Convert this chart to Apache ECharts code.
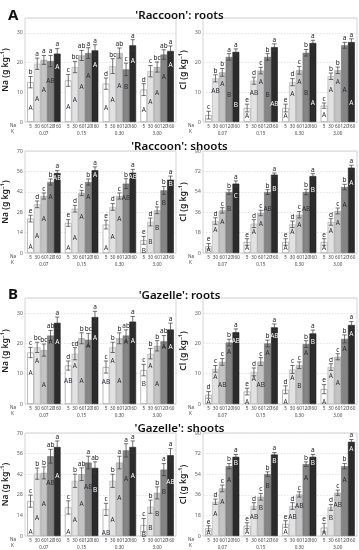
<!DOCTYPE html>
<html><head><meta charset="utf-8">
<script src="https://cdn.jsdelivr.net/npm/echarts/dist/echarts.min.js"></script>
<style>html,body{margin:0;padding:0;background:#fff}#c{width:359px;height:550px}</style>
</head><body><div id="c"></div>
<script>
// ---------- DATA ----------
const kLevels = ['0.07', '0.15', '0.30', '3.00'];
const naLevels = ['5', '30', '60', '120', '160'];

// values[kGroup][naLevel]
const raccoonRootsNa = [[13.4,19.6,20.9,20.5,23.0],[14.0,18.5,22.4,23.2,24.1],[12.9,18.8,23.2,17.7,25.8],[10.9,17.1,18.5,22.7,23.9]];
const raccoonRootsNaErr = [[1.9,1.9,1.5,1.9,1.7],[2.0,1.9,1.7,1.8,1.9],[1.9,2.5,1.7,2.1,1.9],[2.0,1.9,1.7,1.6,1.7]];
const raccoonRootsNaLower = [['b','a','a','a','a'],['c','bc','ab','a','a'],['d','bc','ab','c','a'],['d','c','bc','ab','a']];
const raccoonRootsNaUpper = [['A','A','A','AB','A'],['A','A','A','A','A'],['A','A','A','B','A'],['A','A','A','A','A']];

const raccoonRootsCl = [[2.3,14.7,16.7,21.9,23.6],[4.7,13.9,17.3,21.9,25.2],[4.7,13.4,17.4,23.3,26.6],[5.5,15.4,17.4,25.8,26.9]];
const raccoonRootsClErr = [[1.3,1.2,1.3,1.1,1.0],[1.3,1.2,1.1,1.1,1.1],[1.3,1.2,1.3,1.1,0.9],[0.9,1.1,1.1,1.0,1.1]];
const raccoonRootsClLower = [['c','b','b','a','a'],['e','d','c','b','a'],['e','d','c','b','a'],['c','b','b','a','a']];
const raccoonRootsClUpper = [['','AB','A','B','B'],['A','AB','A','B','AB'],['A','A','A','B','A'],['A','A','A','A','A']];

const raccoonShootsNa = [[23.6,33.4,39.1,48.7,54.9],[20.6,30.4,41.2,48.7,56.8],[19.5,31.6,39.1,47.6,55.1],[8.7,21.3,29.3,43.0,50.3]];
const raccoonShootsNaErr = [[2.3,2.3,2.1,2.1,1.8],[2.3,2.3,1.8,2.1,2.3],[3.0,2.3,2.1,3.4,2.3],[2.7,2.7,2.3,2.7,2.5]];
const raccoonShootsNaLower = [['e','d','c','b','a'],['e','d','c','b','a'],['e','d','c','b','a'],['e','d','c','b','a']];
const raccoonShootsNaUpper = [['A','A','A','A','AB'],['A','A','A','A','A'],['A','A','A','AB','AB'],['B','B','B','B','B']];

const raccoonShootsCl = [[5.9,28.2,37.6,53.8,61.2],[9.7,25.9,35.3,53.8,69.1],[9.7,25.3,33.8,53.8,67.9],[9.7,27.4,37.1,58.2,75.3]];
const raccoonShootsClErr = [[2.4,2.9,2.4,2.1,2.4],[2.9,3.5,2.4,2.1,1.5],[2.9,2.9,2.9,2.4,2.1],[2.9,2.9,2.6,2.4,2.1]];
const raccoonShootsClLower = [['e','d','c','b','a'],['e','d','c','b','a'],['e','d','c','b','a'],['e','d','c','b','a']];
const raccoonShootsClUpper = [['A','A','A','B','C'],['A','A','A','AB','B'],['A','A','A','AB','B'],['A','A','A','A','A']];

const gazelleRootsNa = [[17.0,18.7,17.8,22.6,26.8],[12.7,16.6,21.7,21.2,28.7],[12.2,18.7,21.7,22.6,27.2],[11.2,16.6,19.2,20.7,24.6]];
const gazelleRootsNaErr = [[1.7,1.7,2.0,1.7,1.9],[1.5,2.0,1.8,2.1,1.9],[2.0,1.7,1.8,1.9,1.7],[1.9,1.7,1.7,1.9,2.1]];
const gazelleRootsNaLower = [['c','bc','bc','ab','a'],['d','cd','b','bc','a'],['c','b','b','ab','a'],['c','b','b','ab','a']];
const gazelleRootsNaUpper = [['A','A','A','A','A'],['AB','A','A','A','A'],['AB','A','A','A','A'],['B','A','A','A','A']];

const gazelleRootsCl = [[3.0,11.6,13.9,20.3,23.7],[4.1,10.6,14.0,20.0,25.3],[4.7,11.4,12.8,19.8,23.3],[4.9,12.2,15.6,21.5,26.1]];
const gazelleRootsClErr = [[1.1,1.1,1.1,1.1,1.1],[1.1,1.3,1.3,1.1,1.1],[1.3,1.3,1.1,1.1,1.1],[1.5,1.1,1.0,1.3,1.1]];
const gazelleRootsClLower = [['d','c','c','b','a'],['e','d','c','b','a'],['d','c','c','b','a'],['e','d','c','b','a']];
const gazelleRootsClUpper = [['A','A','AB','A','AB'],['A','A','AB','A','AB'],['A','A','B','A','B'],['A','A','A','A','A']];

const gazelleShootsNa = [[23.7,42.4,42.9,54.2,60.5],[19.4,37.5,42.0,49.9,46.3],[18.1,37.5,49.9,58.2,60.5],[7.4,19.9,29.3,45.1,54.9]];
const gazelleShootsNaErr = [[4.1,3.8,4.1,4.7,4.1],[4.5,4.5,4.3,4.3,4.1],[4.1,4.5,4.3,4.5,4.1],[4.5,4.5,4.1,4.1,4.5]];
const gazelleShootsNaLower = [['c','b','b','ab','a'],['c','b','ab','a','ab'],['c','b','a','a','a'],['c','b','b','a','a']];
const gazelleShootsNaUpper = [['A','A','A','AB','A'],['A','A','A','AB','B'],['AB','A','A','A','A'],['B','B','B','B','AB']];

const gazelleShootsCl = [[6.7,29.9,41.6,61.0,69.2],[9.0,26.2,34.3,54.1,71.2],[10.5,26.2,36.3,62.8,69.2],[7.3,25.0,37.8,61.0,82.3]];
const gazelleShootsClErr = [[2.3,2.3,2.9,2.3,2.0],[2.6,2.9,2.9,2.0,1.7],[2.9,2.9,2.3,2.0,2.0],[3.8,2.6,2.3,2.3,2.0]];
const gazelleShootsClLower = [['e','d','c','b','a'],['e','d','c','b','a'],['e','d','c','b','a'],['e','d','c','b','a']];
const gazelleShootsClUpper = [['A','A','A','A','B'],['A','AB','B','B','B'],['A','AB','AB','A','B'],['A','B','AB','A','A']];

const titles = ["'Raccoon': roots", "'Raccoon': shoots", "'Gazelle': roots", "'Gazelle': shoots"];
const naAxisName = 'Na (g kg\u207B\u00B9)';
const clAxisName = 'Cl (g kg\u207B\u00B9)';

// ---------- LAYOUT / STYLE ----------
const FONT = 'Noto Sans';
const CG = 0.115; // bar category gap fraction
const barFill = ['#ffffff', '#e2e2e2', '#c4c4c4', '#858585', '#2b2b2b'];
const barBorder = ['#8c8c8c', '#b0b0b0', '#9a9a9a', '#6a6a6a', '#222222'];

const panels = [
  {v: raccoonRootsNa, e: raccoonRootsNaErr, lo: raccoonRootsNaLower, up: raccoonRootsNaUpper, name: naAxisName, max: 35, iv: 10,
   g: {left: 25, top: 18, width: 151, height: 104}, frac: [0.36, 0.4, 0.52, 0.67, 0.8]},
  {v: raccoonRootsCl, e: raccoonRootsClErr, lo: raccoonRootsClLower, up: raccoonRootsClUpper, name: clAxisName, max: 35, iv: 10,
   g: {left: 203, top: 18, width: 154, height: 104}, frac: [0.4, 0.7, 0.77, 0.42, 0.24]},
  {v: raccoonShootsNa, e: raccoonShootsNaErr, lo: raccoonShootsNaLower, up: raccoonShootsNaUpper, name: naAxisName, max: 70, iv: 14,
   g: {left: 25, top: 151, width: 151, height: 102}, frac: [0.16, 0.34, 0.59, 0.79, 0.94]},
  {v: raccoonShootsCl, e: raccoonShootsClErr, lo: raccoonShootsClLower, up: raccoonShootsClUpper, name: clAxisName, max: 90, iv: 18,
   g: {left: 203, top: 151, width: 154, height: 102}, frac: [0.45, 0.72, 0.72, 0.72, 0.82]},
  {v: gazelleRootsNa, e: gazelleRootsNaErr, lo: gazelleRootsNaLower, up: gazelleRootsNaUpper, name: naAxisName, max: 35, iv: 10,
   g: {left: 25, top: 298, width: 151, height: 106}, frac: [0.6, 0.75, 0.35, 0.9, 0.76]},
  {v: gazelleRootsCl, e: gazelleRootsClErr, lo: gazelleRootsClLower, up: gazelleRootsClUpper, name: clAxisName, max: 35, iv: 10,
   g: {left: 203, top: 298, width: 154, height: 106}, frac: [0.15, 0.76, 0.45, 0.84, 0.88]},
  {v: gazelleShootsNa, e: gazelleShootsNaErr, lo: gazelleShootsNaLower, up: gazelleShootsNaUpper, name: naAxisName, max: 70, iv: 14,
   g: {left: 25, top: 433, width: 151, height: 103}, frac: [0.12, 0.28, 0.51, 0.66, 0.67]},
  {v: gazelleShootsCl, e: gazelleShootsClErr, lo: gazelleShootsClLower, up: gazelleShootsClUpper, name: clAxisName, max: 90, iv: 18,
   g: {left: 203, top: 433, width: 154, height: 103}, frac: [0.35, 0.64, 0.72, 0.8, 0.92]}
];

const grid = [], xAxis = [], yAxis = [], series = [], graphic = [];

function makeRender(p) {
  return function (params, api) {
    const g = api.value(0), l = api.value(1), v = api.value(2), e = api.value(3);
    const base = api.coord([g, 0]);
    const band = api.size([1, 0])[0];
    const w = band * (1 - CG) / 5;
    const x = base[0] - 2.5 * w + (l + 0.5) * w;
    const yT = api.coord([g, v + e])[1];
    const yB = api.coord([g, v - e])[1];
    const yU = api.coord([g, v * p.frac[l]])[1];
    const cap = w * 0.32;
    const ls = {stroke: '#3a3a3a', lineWidth: 0.7};
    return {type: 'group', children: [
      {type: 'line', shape: {x1: x, y1: yT, x2: x, y2: yB}, style: ls},
      {type: 'line', shape: {x1: x - cap, y1: yT, x2: x + cap, y2: yT}, style: ls},
      {type: 'line', shape: {x1: x - cap, y1: yB, x2: x + cap, y2: yB}, style: ls},
      {type: 'text', x: x, y: yT - 0.5, style: {text: p.lo[g][l], fill: '#222', fontSize: 6.5, fontFamily: FONT, align: 'center', verticalAlign: 'bottom'}},
      {type: 'text', x: x, y: yU, style: {text: p.up[g][l], fill: l === 4 ? '#ffffff' : '#2a2a3a', fontSize: 6.5, fontFamily: FONT, align: 'center', verticalAlign: 'middle'}},
      {type: 'text', x: x, y: base[1] + 2, style: {text: naLevels[l], fill: '#444', fontSize: 4.6, fontFamily: FONT, align: 'center', verticalAlign: 'top'}}
    ]};
  };
}

panels.forEach((p, i) => {
  grid.push(Object.assign({show: true, borderColor: '#c8c8c8', borderWidth: 0.8, backgroundColor: 'transparent', outerBoundsMode: 'none', containLabel: false}, p.g));
  xAxis.push({type: 'category', gridIndex: i, data: kLevels,
    axisLine: {show: false}, axisTick: {show: false},
    axisLabel: {fontSize: 4.6, color: '#444', margin: 9, fontFamily: FONT}});
  yAxis.push({type: 'value', gridIndex: i, min: 0, max: p.max, interval: p.iv,
    name: p.name, nameLocation: 'middle', nameGap: 15, nameRotate: 90,
    nameTextStyle: {fontSize: 8.5, color: '#222', fontFamily: FONT, fontWeight: 600},
    axisLine: {show: false}, axisTick: {show: false},
    axisLabel: {fontSize: 5.5, color: '#666', margin: 2, fontFamily: FONT, showMaxLabel: p.max % p.iv === 0},
    splitLine: {show: true, lineStyle: {color: '#d8d8d8', type: [1.5, 1.5], width: 0.7}}});
  for (let l = 0; l < 5; l++) {
    series.push({type: 'bar', xAxisIndex: i, yAxisIndex: i, barGap: '0%', barCategoryGap: (CG * 100) + '%',
      data: p.v.map(r => r[l]),
      itemStyle: {color: barFill[l], borderColor: barBorder[l], borderWidth: 0.6},
      silent: true, animation: false});
  }
  const cdata = [];
  for (let g = 0; g < 4; g++) for (let l = 0; l < 5; l++) cdata.push([g, l, p.v[g][l], p.e[g][l]]);
  series.push({type: 'custom', xAxisIndex: i, yAxisIndex: i, clip: false, z: 5,
    renderItem: makeRender(p), data: cdata, encode: {x: 0, y: 2}, silent: true, animation: false});
  const bottom = p.g.top + p.g.height;
  graphic.push({type: 'text', left: p.g.left - 15, top: bottom + 1, style: {text: 'Na', fontSize: 4.6, fill: '#444', fontFamily: FONT}});
  graphic.push({type: 'text', left: p.g.left - 14, top: bottom + 7, style: {text: 'K', fontSize: 4.6, fill: '#444', fontFamily: FONT}});
});

const titleTops = [5, 136, 285, 418];
const title = titles.map((t, i) => ({text: t, left: 'center', top: titleTops[i],
  textStyle: {fontSize: 11.5, fontWeight: 600, color: '#111', fontFamily: FONT}}));
title.push({text: 'A', left: 3, top: 3, textStyle: {fontSize: 15, fontWeight: 'bold', color: '#111', fontFamily: FONT}});
title.push({text: 'B', left: 3, top: 282, textStyle: {fontSize: 15, fontWeight: 'bold', color: '#111', fontFamily: FONT}});

const chart = echarts.init(document.getElementById('c'), null, {renderer: 'canvas'});
chart.setOption({animation: false, backgroundColor: '#fff', title, grid, xAxis, yAxis, series, graphic});
</script>
</body></html>
